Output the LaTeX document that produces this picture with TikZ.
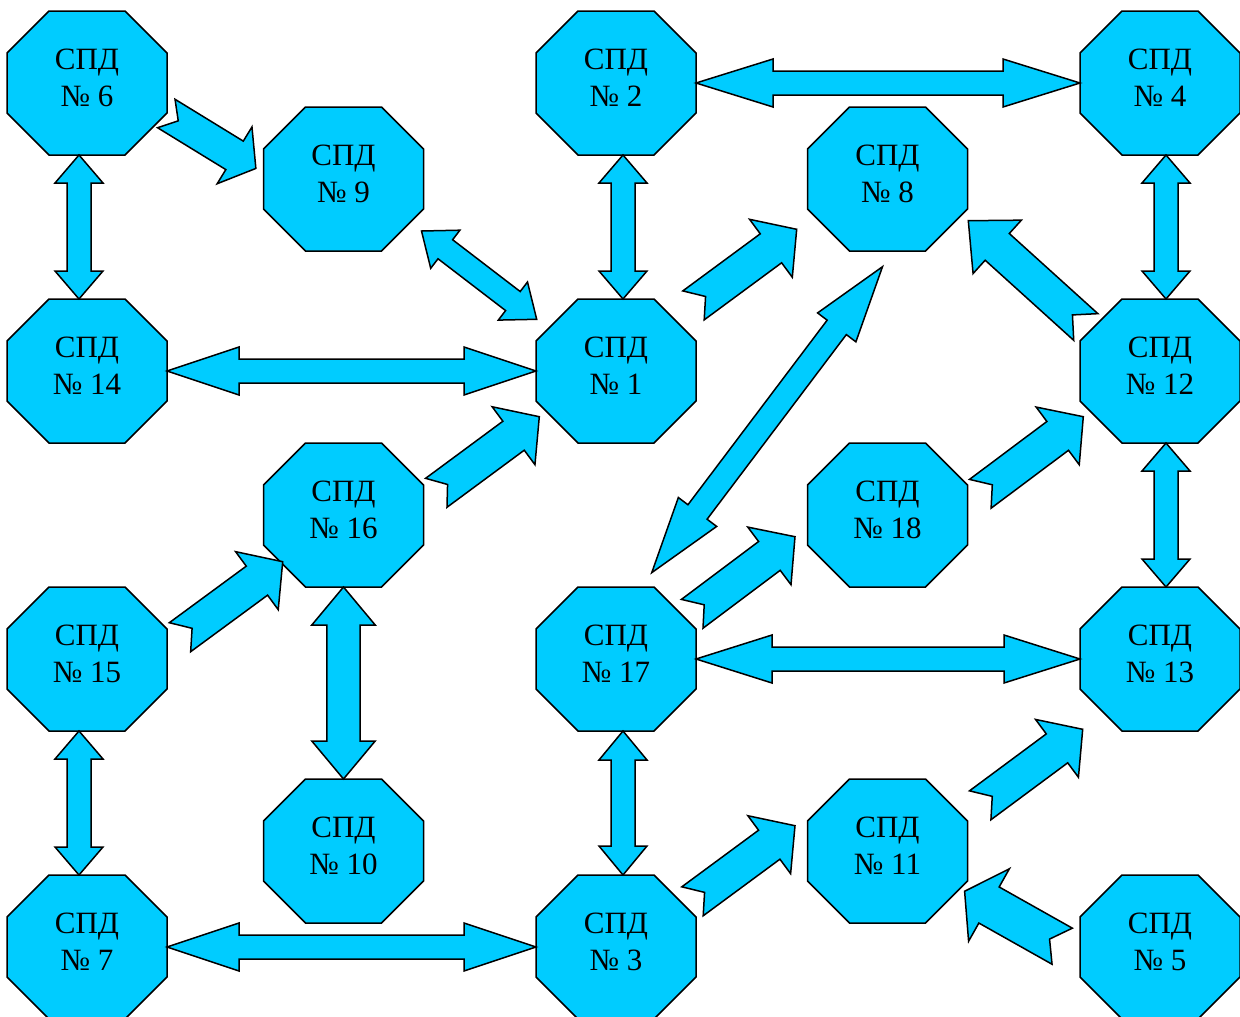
\documentclass[tikz,border=0pt]{standalone}
\usepackage{fontspec}
\setmainfont{Liberation Serif}
\usetikzlibrary{calc}
\definecolor{spdcyan}{RGB}{0,204,255}
\tikzset{
  octo/.style={fill=spdcyan, draw=black, line width=1.5pt, line join=miter},
  blk/.style={fill=spdcyan, draw=black, line width=1.5pt, line join=miter},
  holder/.style={minimum width=160pt, minimum height=144pt, inner sep=0pt, outer sep=0pt},
  lbl/.style={font=\fontsize{31}{38}\selectfont, inner sep=0pt, anchor=base},
}
% octagon node: name, centre, number
\newcommand\spd[3]{%
  \draw[octo] (#2) ++(-38,-72) -- ++(76,0) -- ++(42,42) -- ++(0,60) -- ++(-42,42)
     -- ++(-76,0) -- ++(-42,-42) -- ++(0,-60) -- cycle;
  \node[holder] (#1) at (#2) {};
  \node[lbl] (#1a) at ($(#2)+(0,-14)$) {СПД};
  \node[lbl] (#1b) at ($(#2)+(0,23.5)$) {№ #3};
}
% double block arrow: start, end, shaft half, head half, head length
\newcommand\dblarrow[5]{%
  \draw[blk] let \p1=(#1), \p2=(#2), \n1={atan2(\y2-\y1,\x2-\x1)},
     \n2={veclen(\x2-\x1,\y2-\y1)} in [shift={(\p1)}, rotate=\n1]
     (0pt,0pt) -- (#5pt,#4pt) -- (#5pt,#3pt) -- (\n2-#5pt,#3pt) -- (\n2-#5pt,#4pt)
     -- (\n2+0pt,0pt) -- (\n2-#5pt,-#4pt) -- (\n2-#5pt,-#3pt) -- (#5pt,-#3pt)
     -- (#5pt,-#4pt) -- cycle;
}
% notched block arrow: tail middle, tip, shaft half, head half, head length, notch
\newcommand\notcharrow[6]{%
  \draw[blk] let \p1=(#1), \p2=(#2), \n1={atan2(\y2-\y1,\x2-\x1)},
     \n2={veclen(\x2-\x1,\y2-\y1)} in [shift={(\p1)}, rotate=\n1]
     (0pt,#3pt) -- (\n2-#5pt,#3pt) -- (\n2-#5pt,#4pt) -- (\n2+0pt,0pt)
     -- (\n2-#5pt,-#4pt) -- (\n2-#5pt,-#3pt) -- (0pt,-#3pt) -- (#6pt,0pt) -- cycle;
}
\begin{document}
\begin{tikzpicture}[x=1pt,y=-1pt]
\useasboundingbox (0,0) rectangle (1240,1017);
\fill[white] (0,0) rectangle (1240,1017);
% nodes
\spd{n6}{87,83}{6}
\spd{n2}{616,83}{2}
\spd{n4}{1160,83}{4}
\spd{n9}{343.5,179}{9}
\spd{n8}{887.5,179}{8}
\spd{n14}{87,371}{14}
\spd{n1}{616,371}{1}
\spd{n12}{1160,371}{12}
\spd{n16}{343.5,515}{16}
\spd{n18}{887.5,515}{18}
\spd{n15}{87,659}{15}
\spd{n17}{616,659}{17}
\spd{n13}{1160,659}{13}
\spd{n10}{343.5,851}{10}
\spd{n11}{887.5,851}{11}
\spd{n7}{87,947}{7}
\spd{n3}{616,947}{3}
\spd{n5}{1160,947}{5}
% double arrows
\dblarrow{$(n6.south)+(-8,0)$}{$(n14.north)+(-8,0)$}{12}{24}{28}
\dblarrow{$(n2.south)+(7,0)$}{$(n1.north)+(7,0)$}{12}{24}{28}
\dblarrow{$(n4.south)+(6,0)$}{$(n12.north)+(6,0)$}{12}{24}{28}
\dblarrow{n2.east}{n4.west}{12}{24}{77}
\dblarrow{n14.east}{n1.west}{12}{24}{72}
\dblarrow{$(n9.south east)+(-2,-20)$}{$(n1.north west)+(0.7,20.3)$}{12}{24}{30}
\dblarrow{$(n8.south)+(-5,15.7)$}{$(n17.north)+(35.7,-14.3)$}{12}{24}{76}
\dblarrow{$(n12.south)+(6,0)$}{$(n13.north)+(6,0)$}{12}{24}{28}
\dblarrow{n16.south}{n10.north}{16.7}{31.7}{38}
\dblarrow{n17.east}{n13.west}{12}{24}{76}
\dblarrow{$(n15.south)+(-8,0)$}{$(n7.north)+(-8,0)$}{12}{24}{28}
\dblarrow{$(n17.south)+(7,0)$}{$(n3.north)+(7,0)$}{12}{24}{29}
\dblarrow{n7.east}{n3.west}{12}{24}{72}
% notched single arrows
\notcharrow{$(n6.east)+(-0.7,30.5)$}{$(n9.west)+(-7.5,-10.5)$}{16.7}{33.3}{25}{14}
\notcharrow{$(n1.north east)+(-2.5,6.4)$}{$(n8.west)+(-10.8,50.3)$}{18}{36}{32}{15}
\notcharrow{$(n12.north west)+(5.8,28)$}{$(n8.east)+(0.8,41.7)$}{18}{36}{39}{18}
\notcharrow{$(n16.north east)+(12.8,49.8)$}{$(n1.south west)+(3.3,-26.3)$}{18}{36}{32}{14}
\notcharrow{$(n15.north east)+(13,50.2)$}{$(n16.south west)+(19.2,-25.3)$}{18}{36}{32}{15}
\notcharrow{$(n18.north east)+(12.8,50.8)$}{$(n12.south west)+(3.3,-26.3)$}{18}{36}{32}{15}
\notcharrow{$(n17.north east)+(-3.8,26.8)$}{$(n18.west)+(-12.5,21.7)$}{18}{36}{32}{15}
\notcharrow{$(n3.north east)+(-3.5,26.3)$}{$(n11.west)+(-12.5,-25.3)$}{18}{36}{32}{15}
\notcharrow{$(n11.north east)+(12.7,26.3)$}{$(n13.south west)+(2.7,-1.7)$}{18}{36}{32}{15}
\notcharrow{$(n5.west)+(-17.8,-0.8)$}{$(n11.east)+(-3,40.2)$}{20.7}{41.6}{28}{14.5}
\end{tikzpicture}
\end{document}
